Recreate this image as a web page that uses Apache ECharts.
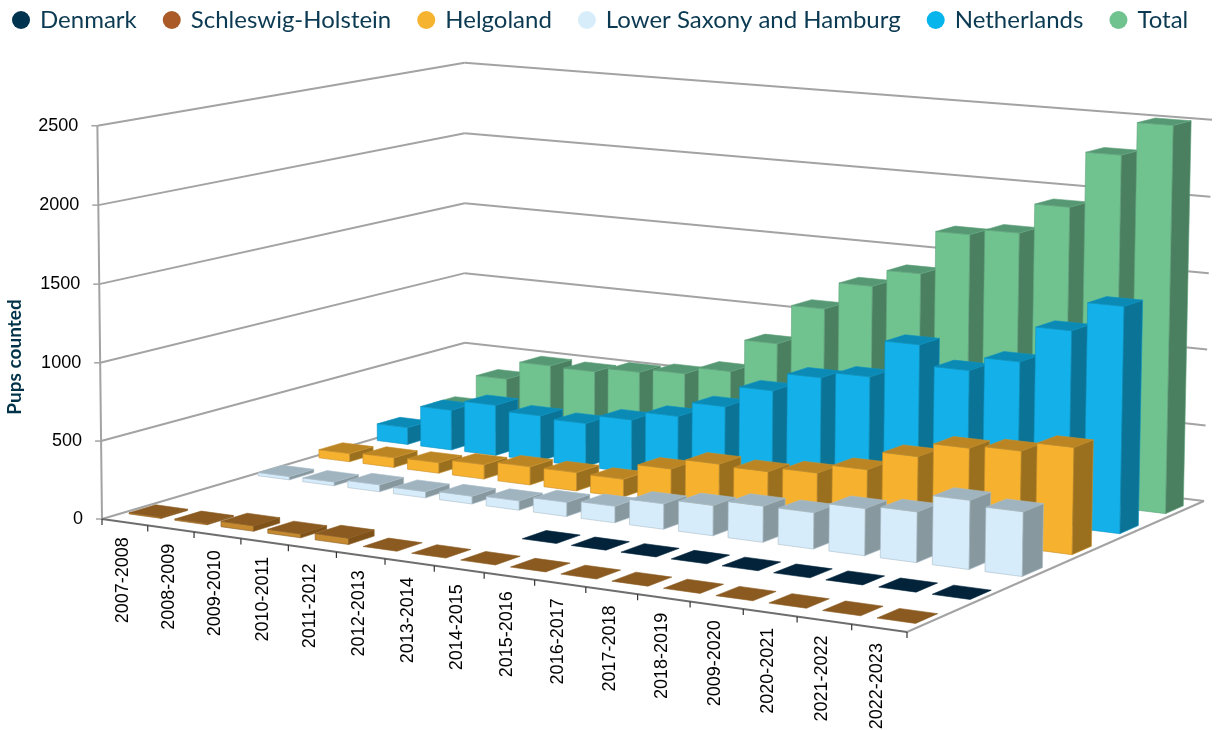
<!DOCTYPE html>
<html><head><meta charset="utf-8">
<style>html,body{margin:0;padding:0;background:#fff}#c{width:1218px;height:730px}</style>
<script src="https://cdn.jsdelivr.net/npm/echarts@6/dist/echarts.min.js"></script>
</head><body><div id="c"></div>
<script>
const categories = ['2007-2008','2008-2009','2009-2010','2010-2011','2011-2012','2012-2013','2013-2014','2014-2015','2015-2016','2016-2017','2017-2018','2018-2019','2009-2020','2020-2021','2021-2022','2022-2023'];
const yTicks = [0,500,1000,1500,2000,2500];
const schleswigHolstein = [8,8,35,25,40,0,0,0,0,0,0,0,0,0,0,0];
const denmark = [null,null,null,null,null,null,null,0,0,0,0,0,0,0,0,0];
const lowerSaxony = [22,25,46,41,51,61,92,107,163,193,229,229,295,315,427,397];
const helgoland = [56,66,71,97,122,122,117,224,295,285,315,376,498,590,610,671];
const netherlands = [117,275,346,310,295,356,417,519,661,783,824,1068,936,1027,1260,1448];
const total = [150,380,509,503,534,559,610,834,1103,1287,1402,1692,1732,1930,2295,2512];

const maxY = 2500, rows = 6, cols = categories.length;
const FLOOR = [[102,519],[907,632],[1204,501],[465,412]];
const WALL = [[0,0,97,125],[0,1,465,65],[1,1,1212,118]];

function solve(A,b){const n=b.length,M=A.map((r,i)=>r.concat([b[i]]));
  for(let i=0;i<n;i++){let p=i;for(let k=i+1;k<n;k++)if(Math.abs(M[k][i])>Math.abs(M[p][i]))p=k;
    [M[i],M[p]]=[M[p],M[i]];
    for(let k=0;k<n;k++){if(k===i)continue;const f=M[k][i]/M[i][i];for(let j=i;j<=n;j++)M[k][j]-=f*M[i][j];}}
  return M.map((r,i)=>r[n]/r[i]);}
const uv=[[0,0],[1,0],[1,1],[0,1]];
const hA=[],hB=[];
FLOOR.forEach((p,i)=>{const [u,v]=uv[i],[X,Y]=p;
  hA.push([u,v,1,0,0,0,-u*X,-v*X]);hB.push(X);
  hA.push([0,0,0,u,v,1,-u*Y,-v*Y]);hB.push(Y);});
const H=solve(hA,hB).concat([1]);
const rA=[],rB=[];
WALL.forEach(([u,v,X,Y])=>{
  const nx=H[0]*u+H[1]*v+H[2],ny=H[3]*u+H[4]*v+H[5],w=H[6]*u+H[7]*v+H[8];
  rA.push([1,0,-X]);rB.push(X*w-nx);
  rA.push([0,1,-Y]);rB.push(Y*w-ny);});
const AtA=[0,1,2].map(i=>[0,1,2].map(j=>rA.reduce((s,r)=>s+r[i]*r[j],0)));
const Atb=[0,1,2].map(i=>rA.reduce((s,r,k)=>s+r[i]*rB[k],0));
const V=solve(AtA,Atb);
function proj(x,y,z){const u=x/cols,v=z/rows,h=y/maxY;
  const w=H[6]*u+H[7]*v+H[8]+V[2]*h;
  return [(H[0]*u+H[1]*v+H[2]+V[0]*h)/w,(H[3]*u+H[4]*v+H[5]+V[1]*h)/w];}

const BW=0.70, BD=0.40;
function barItem(row,shade){return function(params,api){
  const i=api.value(0),val=api.value(1);
  if(val===null||val===undefined||isNaN(val))return null;
  const x0=i+.5-BW/2,x1=i+.5+BW/2,z0=row+.5-BD/2,z1=row+.5+BD/2;
  const poly=(pts,fill)=>({type:'polygon',shape:{points:pts},style:{fill:fill,stroke:shade.edge,lineWidth:.6}});
  const ch=[];
  if(val>0){
    ch.push(poly([proj(x0,0,z0),proj(x1,0,z0),proj(x1,val,z0),proj(x0,val,z0)],shade.front));
    ch.push(poly([proj(x1,0,z0),proj(x1,0,z1),proj(x1,val,z1),proj(x1,val,z0)],shade.side));
  }
  ch.push(poly([proj(x0,val,z0),proj(x1,val,z0),proj(x1,val,z1),proj(x0,val,z1)],shade.top));
  return {type:'group',children:ch};
};}
function frameItem(params,api){
  const ch=[],GRID='#a3a3a3',DARK='#6e6e6e';
  const line=(a,b,c,w)=>({type:'line',shape:{x1:a[0],y1:a[1],x2:b[0],y2:b[1]},style:{stroke:c,lineWidth:w}});
  const txt=(p,t,align,rot)=>({type:'text',x:p[0],y:p[1],rotation:rot||0,style:{text:t,x:0,y:0,fill:'#000',font:'18px "Liberation Sans", Arial',textAlign:align,textVerticalAlign:'middle'}});
  yTicks.forEach(t=>{
    const a=proj(0,t,0),b=proj(0,t,rows),c=proj(cols,t,rows);
    ch.push(line(a,b,GRID,2),line(b,c,GRID,2));
    ch.push(line([a[0]-6,a[1]],a,GRID,1.5));
    ch.push(txt([a[0]-19,a[1]],String(t),'right'));
  });
  ch.push(line(proj(0,0,0),proj(0,maxY,0),GRID,2));
  ch.push(line(proj(cols,0,0),proj(cols,0,rows),GRID,2));
  ch.push(line(proj(0,0,0),proj(cols,0,0),DARK,2));
  for(let i=0;i<=cols;i++){const p=proj(i,0,0);ch.push(line(p,[p[0],p[1]+6],'#333',1.2));}
  categories.forEach((c,i)=>{const p=proj(i+.5,0,0);ch.push(txt([p[0]-2,p[1]+15],c,'right',Math.PI/2));});
  ch.push({type:'text',x:15,y:357,rotation:Math.PI/2,style:{text:'Pups counted',x:0,y:0,fill:'#003349',font:'bold 19px Lato',textAlign:'center',textVerticalAlign:'middle'}});
  return {type:'group',children:ch};
}
const shades={
  tot:{front:'#70c28f',side:'#4a7f5f',top:'#559873',edge:'#5fa27c'},
  net:{front:'#13b0ea',side:'#0a7396',top:'#0a8ab5',edge:'#0f94c2'},
  hel:{front:'#f6b12f',side:'#9a701f',top:'#bb8524',edge:'#c98f28'},
  low:{front:'#d6ecfa',side:'#87989f',top:'#a0b4c0',edge:'#a9bcc8'},
  den:{front:'#002a40',side:'#002a40',top:'#02233a',edge:'#02233a'},
  sch:{front:'#c58a30',side:'#7f5219',top:'#8a5a20',edge:'#8a5a20'}
};
function barSeries(name,vals,row,color,shade){return {name:name,type:'custom',coordinateSystem:'none',silent:true,
  itemStyle:{color:color},renderItem:barItem(row,shade),data:vals.map((v,i)=>[i,v]),animation:false};}
const chart=echarts.init(document.getElementById('c'),null,{renderer:'canvas'});
chart.setOption({
  animation:false,backgroundColor:'#fff',
  legend:{left:7,top:3,itemWidth:18,itemHeight:18,itemGap:26,icon:'circle',
    data:['Denmark','Schleswig-Holstein','Helgoland','Lower Saxony and Hamburg','Netherlands','Total'],
    textStyle:{color:'#0b3a52',fontFamily:'Lato',fontSize:24,padding:[0,0,0,5]}},
  series:[
    {name:'Axes',type:'custom',coordinateSystem:'none',silent:true,renderItem:frameItem,data:[[0,0]]},
    barSeries('Total',total,5,'#70c28f',shades.tot),
    barSeries('Netherlands',netherlands,4,'#05b5ec',shades.net),
    barSeries('Helgoland',helgoland,3,'#f6b32f',shades.hel),
    barSeries('Lower Saxony and Hamburg',lowerSaxony,2,'#d8edfa',shades.low),
    barSeries('Denmark',denmark,1,'#00334d',shades.den),
    barSeries('Schleswig-Holstein',schleswigHolstein,0,'#a95a27',shades.sch)
  ]
});
</script></body></html>
